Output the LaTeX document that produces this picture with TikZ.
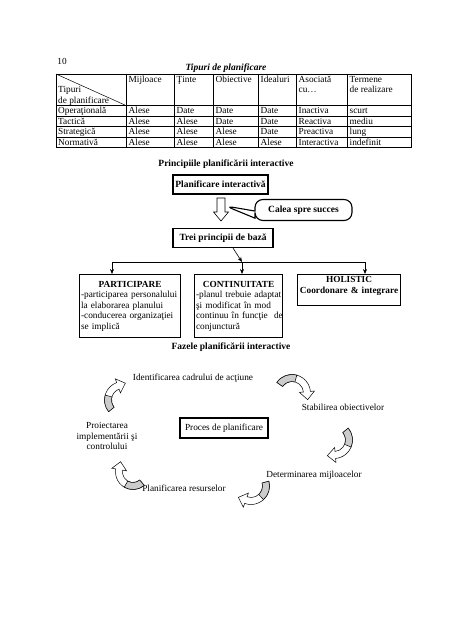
\documentclass[tikz,border=0pt]{standalone}
\usepackage{fontspec}
\setmainfont{Liberation Serif}
\usetikzlibrary{arrows.meta,calc,shapes.callouts}
\newcommand{\txtfont}{\fontsize{9.3}{10.5}\selectfont}
\newcommand{\ttlfont}{\fontsize{9.5}{11}\selectfont\bfseries}
\newcommand{\bentarrow}[4]{%
  \pgfmathsetmacro\bsgn{ifthenelse((#4)>(#3),1,-1)}%
  \pgfmathsetmacro\bmid{((#3)+(#4))/2}%
  \pgfmathsetmacro\bro{(#2)+3.5}%
  \pgfmathsetmacro\bri{(#2)-3.5}%
  \pgfmathsetmacro\brh{(#2)+7.5}%
  \pgfmathsetmacro\brl{(#2)-7.5}%
  \pgfmathsetmacro\btip{(#4)+\bsgn*90}%
  \filldraw[fill=white,line width=0.5] ($(#1)+(#3:\bro)$) arc[start angle=#3,end angle=#4,radius=\bro]
    -- ($(#1)+(#4:\brh)$) -- ($(#1)+(#4:#2)+(\btip:8)$) -- ($(#1)+(#4:\brl)$)
    -- ($(#1)+(#4:\bri)$) arc[start angle=#4,end angle=#3,radius=\bri] -- cycle;
  \filldraw[fill=gray!40,line width=0.5] ($(#1)+(#3:\bro)$) arc[start angle=#3,end angle=\bmid,radius=\bro]
    -- ($(#1)+(\bmid:\bri)$) arc[start angle=\bmid,end angle=#3,radius=\bri] -- cycle;
}
\begin{document}
\begin{tikzpicture}[x=1pt,y=1pt,
    cell/.style={anchor=base west,inner sep=0pt,font=\txtfont},
    ttl/.style={font=\ttlfont},
    tbox/.style={draw,line width=1.1pt,font=\ttlfont,minimum height=19,inner sep=2pt},
    pbox/.style={draw,line width=1.1pt,anchor=north west,align=left,inner xsep=1.5pt,inner ysep=2pt,font=\txtfont},
    phase/.style={font=\txtfont,align=center,inner sep=1pt},
    link/.style={-{Stealth[length=5pt,width=4pt]},line width=0.6pt}]
  \path[fill=white] (0,0) rectangle (452,-640);
  \node[font=\txtfont] (page) at (62,-61) {10};
  \node[font=\ttlfont\itshape] (ttab) at (226,-68) {Tipuri de planificare};
  \begin{scope}[line width=0.5pt]
    \draw (56,-74) rectangle (411,-147.5);
    \foreach \x in {126,174,213,258,296,347}
      \draw (\x,-74) -- (\x,-147.5);
    \foreach \y in {105.5,116,126.5,137}
      \draw (56,-\y) -- (411,-\y);
    \draw (56,-74) -- (126,-105.5);
  \end{scope}
  \node[cell] (hd0a) at (58,-92.5) {Tipuri};
  \node[cell] (hd0b) at (58,-103) {de planificare};
  \foreach \x/\t [count=\i] in {126/Mijloace,174/Ţinte,213/Obiective,258/Idealuri,296/Asociată,347/Termene}
    \node[cell] (hd\i) at (\x+2.5,-82) {\t};
  \node[cell] (hd5b) at (298.5,-92.5) {cu…};
  \node[cell] (hd6b) at (349.5,-92.5) {de realizare};
  \foreach \nm/\a/\b/\c/\d/\e/\f [count=\r] in {
      Operaţională/Alese/Date/Date/Date/Inactiva/scurt,
      Tactică/Alese/Alese/Date/Date/Reactiva/mediu,
      Strategică/Alese/Alese/Alese/Date/Preactiva/lung,
      Normativă/Alese/Alese/Alese/Alese/Interactiva/indefinit}
  {
    \pgfmathsetmacro\yb{-113.5-10.5*(\r-1)}
    \node[cell] (r\r-0) at (58,\yb) {\nm};
    \node[cell] (r\r-1) at (128.5,\yb) {\a};
    \node[cell] (r\r-2) at (176.5,\yb) {\b};
    \node[cell] (r\r-3) at (215.5,\yb) {\c};
    \node[cell] (r\r-4) at (260.5,\yb) {\d};
    \node[cell] (r\r-5) at (298.5,\yb) {\e};
    \node[cell] (r\r-6) at (349.5,\yb) {\f};
  }

  \node[ttl] (tprin) at (226,-164) {Principiile planificării interactive};
  \node[tbox,minimum width=95] (planif) at (220.5,-184.5) {Planificare interactivă};
  \filldraw[fill=white,line width=0.6pt] (217,-198) -- (225,-198) -- (225,-212) -- (228.5,-212)
    -- (221,-221) -- (213.5,-212) -- (217,-212) -- cycle;
  \coordinate (jos) at (225.5,-206);
  \node[tbox,rectangle callout,rounded corners=8,minimum width=97,minimum height=21,
    callout absolute pointer={(jos)}] (calea) at (303.5,-210) {Calea spre succes};
  \node[tbox,minimum width=100] (trei) at (223,-238) {Trei principii de bază};
  \coordinate (nod) at (242,-262);
  \coordinate (st) at (112,-262);
  \coordinate (dr) at (365,-262);
  \draw[link] ($(trei.south)+(10,0)$) -- (nod);
  \draw[line width=0.6pt] (st) -- (dr);
  \node[pbox,text width=98,minimum height=63] (part) at (79,-274)
    {\noindent\makebox[\hsize]{\bfseries PARTICIPARE}\\
     -participarea personalului\\la elaborarea planului\\-conducerea organizaţiei\\se implică};
  \node[pbox,text width=85,minimum height=63] (cont) at (194,-274)
    {\noindent\makebox[\hsize]{\bfseries CONTINUITATE}\\
     \noindent\makebox[\hsize][s]{-planul trebuie adaptat}\\
     \noindent\makebox[\hsize][s]{şi modificat în mod}\\
     \noindent\makebox[\hsize][s]{continuu în funcţie \ de}\\
     conjunctură};
  \node[pbox,text width=100,align=center,font=\txtfont\bfseries] (holi) at (297,-274)
    {HOLISTIC\\Coordonare \& integrare\\\mbox{}};
  \draw[link] (st) -- (st |- part.north);
  \draw[link] (nod) -- (nod |- cont.north);
  \draw[link] (dr) -- (dr |- holi.north);

  \node[ttl] (tfaz) at (231,-347) {Fazele planificării interactive};
  \node[phase] (ident) at (193,-378) {Identificarea cadrului de acţiune};
  \node[phase] (stab) at (343,-407) {Stabilirea obiectivelor};
  \node[draw,line width=1.1pt,font=\txtfont,minimum width=88,minimum height=20] (proc) at (224,-428) {Proces de planificare};
  \node[phase] (proi) at (107,-436) {Proiectarea\\implementării şi\\controlului};
  \node[phase] (det) at (314,-475) {Determinarea mijloacelor};
  \node[phase] (resurse) at (184,-488) {Planificarea resurselor};
  \bentarrow{123,-400}{15}{219}{110}
  \bentarrow{292,-393}{15}{145}{5}
  \bentarrow{334,-440}{15}{40}{-85}
  \bentarrow{251,-486}{15}{15}{-110}
  \bentarrow{133,-472}{14}{-50}{-190}
\end{tikzpicture}
\end{document}
